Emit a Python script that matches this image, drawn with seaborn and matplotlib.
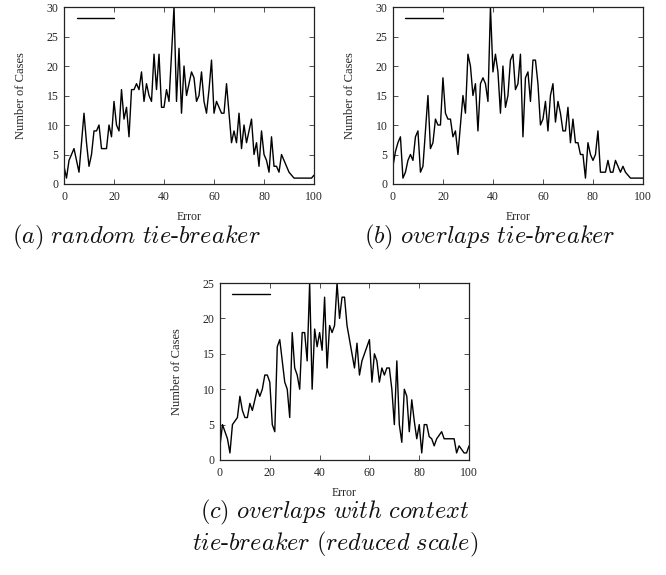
import numpy as np
import pandas as pd
import matplotlib
matplotlib.use("Agg")
import matplotlib.pyplot as plt
import seaborn as sns

# error values 0..100, one count per error
error = list(range(101))

random_tb = [3, 1, 4, 5, 6, 4, 2, 7, 12, 7, 3, 5, 9, 9, 10, 6, 6, 6, 10, 8,
             14, 10, 9, 16, 11, 13, 8, 16, 16, 17, 16, 19, 14, 17, 15, 14, 22, 16, 22, 13,
             13, 16, 14, 22, 30, 14, 23, 12, 20, 15, 17, 19, 18, 14, 15, 19, 14, 12, 16, 21,
             12, 14, 13, 12, 12, 17, 12, 7, 9, 7, 12, 6, 10, 7, 9, 11, 5, 7, 3, 9,
             5, 4, 2, 8, 3, 3, 2, 5, 4, 3, 2, 1.5, 1, 1, 1, 1, 1, 1, 1, 1, 1.5]

overlaps_tb = [3, 5.5, 7, 8, 1, 2, 4, 5, 4, 8, 9, 2, 3, 9, 15, 6, 7, 11, 10, 10,
               18, 12, 11, 11, 8, 9, 5, 10, 15, 12, 22, 20, 15, 17, 9, 17, 18, 17, 14, 30,
               19, 22, 19, 12, 20, 13, 15, 21, 22, 16, 17, 22, 8, 18, 19, 14, 21, 21, 17, 10,
               11, 14, 9, 15, 17, 10.5, 14, 12, 9, 9, 13, 7, 11, 7, 7, 5, 5, 1, 7, 5,
               4, 5, 9, 2, 2, 2, 4, 2, 2, 4, 3, 2, 3, 2, 1.5, 1, 1, 1, 1, 1, 1]

context_tb = [2, 5, 4, 3, 1, 5, 5.5, 6, 9, 7, 6, 6, 8, 7, 8.5, 10, 9, 10, 12, 12,
              11, 5, 4, 16, 17, 14, 11, 10, 6, 18, 13, 12, 10, 18, 18, 14, 25, 10, 18.5, 16,
              18, 15.5, 23, 13, 19, 18, 19, 25, 20, 23, 23, 19, 17, 15, 13, 16.5, 12, 14, 15, 16,
              17, 11, 15, 14, 11, 13, 12, 13, 13, 10, 5, 14, 5, 2.5, 10, 9, 4, 8.5, 5.5, 3,
              5, 1, 5, 5, 3.3, 3, 2, 3, 3.5, 4, 3, 3, 3, 3, 3, 1, 2, 1.5, 1, 1, 2]

# captions written in mathtext so they come out in Computer Modern italic
captions = [r"$\mathit{(a)\ random\ tie}\text{-}\mathit{breaker}$",
            r"$\mathit{(b)\ overlaps\ tie}\text{-}\mathit{breaker}$",
            r"$\mathit{(c)\ overlaps\ with\ context}$",
            r"$\mathit{tie}\text{-}\mathit{breaker\ (reduced\ scale)}$"]

sns.set_style("ticks")
plt.rcParams["font.family"] = ["Liberation Serif", "DejaVu Serif"]
plt.rcParams["mathtext.fontset"] = "cm"
plt.rcParams["xtick.direction"] = "in"
plt.rcParams["ytick.direction"] = "in"

fig = plt.figure(figsize=(6.66, 5.75), dpi=100)

panels = [
    (random_tb, 30, [0.0961, 0.68, 0.3754, 0.3078]),
    (overlaps_tb, 30, [0.590, 0.68, 0.3754, 0.3078]),
    (context_tb, 25, [0.3303, 0.2, 0.374, 0.3078]),
]

for counts, ymax, pos in panels:
    ax = fig.add_axes(pos)
    df = pd.DataFrame({"Error": error, "Cases": counts})
    sns.lineplot(data=df, x="Error", y="Cases", ax=ax, color="black",
                 linewidth=1.0, label=" ")
    ax.set_xlim(0, 100)
    ax.set_ylim(0, ymax)
    ax.set_xticks(range(0, 101, 20))
    ax.set_yticks(range(0, ymax + 1, 5))
    ax.tick_params(top=True, right=True, length=3.5, width=0.6,
                   labelsize=8.5, pad=5, color="#333333")
    ax.tick_params(axis="y", pad=4)
    for s in ax.spines.values():
        s.set_linewidth(0.9)
        s.set_color("#222222")
    ax.set_xlabel("Error", fontsize=8.5, labelpad=6)
    ax.set_ylabel("Number of Cases", fontsize=9, labelpad=14)
    ax.legend(loc="upper left", frameon=False, handlelength=3.4,
              fontsize=8, bbox_to_anchor=(0.01, 1.015), borderpad=0.4)

# subfigure captions
cap_font = dict(fontsize=17.5, color="#111111")
fig.text(0.205, 0.587, captions[0], ha="center", va="center", **cap_font)
fig.text(0.735, 0.587, captions[1], ha="center", va="center", **cap_font)
fig.text(0.503, 0.108, captions[2], ha="center", va="center", **cap_font)
fig.text(0.503, 0.053, captions[3], ha="center", va="center", **cap_font)

fig.savefig("out.png", dpi=100)
